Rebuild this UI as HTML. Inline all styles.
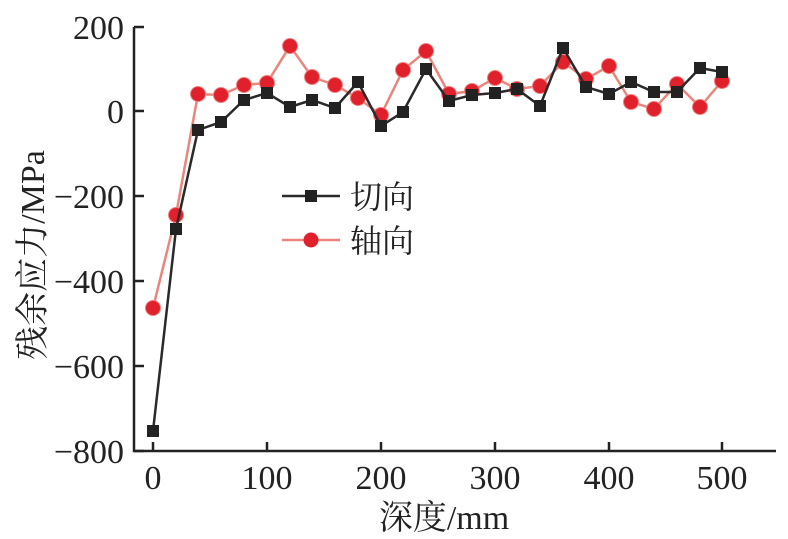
<!DOCTYPE html>
<html><head><meta charset="utf-8"><style>body{margin:0;background:#fff}svg{display:block}</style></head><body>
<svg width="788" height="539" xmlns="http://www.w3.org/2000/svg" font-family="'Liberation Serif','Noto Serif CJK SC',serif">
<g stroke="#222" stroke-width="2.5" fill="none">
<path d="M134,27 V451 H776"/>
<path d="M134,27 h10 M134,111 h10 M134,196 h10 M134,281 h10 M134,366 h10 M134,451 h10"/>
<path d="M153,451 v-9 M267,451 v-9 M381,451 v-9 M495,451 v-9 M609,451 v-9 M722,451 v-9"/>
</g>
<g font-size="34" fill="#222" text-anchor="end">
<text x="124" y="39">200</text><text x="124" y="123">0</text><text x="124" y="208">−200</text>
<text x="124" y="293">−400</text><text x="124" y="378">−600</text><text x="124" y="463">−800</text>
</g>
<g font-size="34" fill="#222" text-anchor="middle">
<text x="153" y="489">0</text><text x="267" y="489">100</text><text x="381" y="489">200</text>
<text x="495" y="489">300</text><text x="609" y="489">400</text><text x="722" y="489">500</text>
<text x="444" y="529">深度/mm</text>
</g>
<text transform="translate(44,255) rotate(-90)" font-size="34" fill="#222" text-anchor="middle">残余应力/MPa</text>
<polyline fill="none" stroke="#e8867c" stroke-width="2.5" points="153,308 176,215 198,94 221,95 244,85 267,83 290,46 312,77 335,85 358,98 381,115 403,70 426,51 449,94 472,91 495,78 517,89 540,86 563,62 586,79 609,66 631,102 654,109 677,84 700,107 722,81"/>
<g fill="#e0202a" stroke="#f08080" stroke-width="1">
<circle cx="153" cy="308" r="7.5"/><circle cx="176" cy="215" r="7.5"/><circle cx="198" cy="94" r="7.5"/><circle cx="221" cy="95" r="7.5"/><circle cx="244" cy="85" r="7.5"/><circle cx="267" cy="83" r="7.5"/><circle cx="290" cy="46" r="7.5"/><circle cx="312" cy="77" r="7.5"/><circle cx="335" cy="85" r="7.5"/><circle cx="358" cy="98" r="7.5"/><circle cx="381" cy="115" r="7.5"/><circle cx="403" cy="70" r="7.5"/><circle cx="426" cy="51" r="7.5"/><circle cx="449" cy="94" r="7.5"/><circle cx="472" cy="91" r="7.5"/><circle cx="495" cy="78" r="7.5"/><circle cx="517" cy="89" r="7.5"/><circle cx="540" cy="86" r="7.5"/><circle cx="563" cy="62" r="7.5"/><circle cx="586" cy="79" r="7.5"/><circle cx="609" cy="66" r="7.5"/><circle cx="631" cy="102" r="7.5"/><circle cx="654" cy="109" r="7.5"/><circle cx="677" cy="84" r="7.5"/><circle cx="700" cy="107" r="7.5"/><circle cx="722" cy="81" r="7.5"/>
</g>
<polyline fill="none" stroke="#2a2a2a" stroke-width="2.5" points="153,431 176,229 198,130 221,122 244,100 267,93 290,107 312,100 335,108 358,82 381,126 403,112 426,69 449,101 472,95 495,93 517,89 540,106 563,48 586,87 609,94 631,82 654,92 677,92 700,68 722,72"/>
<g fill="#222">
<rect x="147" y="425" width="12" height="12"/><rect x="170" y="223" width="12" height="12"/><rect x="192" y="124" width="12" height="12"/><rect x="215" y="116" width="12" height="12"/><rect x="238" y="94" width="12" height="12"/><rect x="261" y="87" width="12" height="12"/><rect x="284" y="101" width="12" height="12"/><rect x="306" y="94" width="12" height="12"/><rect x="329" y="102" width="12" height="12"/><rect x="352" y="76" width="12" height="12"/><rect x="375" y="120" width="12" height="12"/><rect x="397" y="106" width="12" height="12"/><rect x="420" y="63" width="12" height="12"/><rect x="443" y="95" width="12" height="12"/><rect x="466" y="89" width="12" height="12"/><rect x="489" y="87" width="12" height="12"/><rect x="511" y="83" width="12" height="12"/><rect x="534" y="100" width="12" height="12"/><rect x="557" y="42" width="12" height="12"/><rect x="580" y="81" width="12" height="12"/><rect x="603" y="88" width="12" height="12"/><rect x="625" y="76" width="12" height="12"/><rect x="648" y="86" width="12" height="12"/><rect x="671" y="86" width="12" height="12"/><rect x="694" y="62" width="12" height="12"/><rect x="716" y="66" width="12" height="12"/>
</g>
<line x1="282" y1="196" x2="340" y2="196" stroke="#2a2a2a" stroke-width="2.5"/>
<rect x="305" y="190" width="12" height="12" fill="#222"/>
<text x="350" y="208" font-size="32" fill="#222">切向</text>
<line x1="282" y1="240" x2="340" y2="240" stroke="#e8867c" stroke-width="2.5"/>
<circle cx="311" cy="240" r="7.5" fill="#e0202a"/>
<text x="350" y="252" font-size="32" fill="#222">轴向</text>
</svg>
</body></html>
